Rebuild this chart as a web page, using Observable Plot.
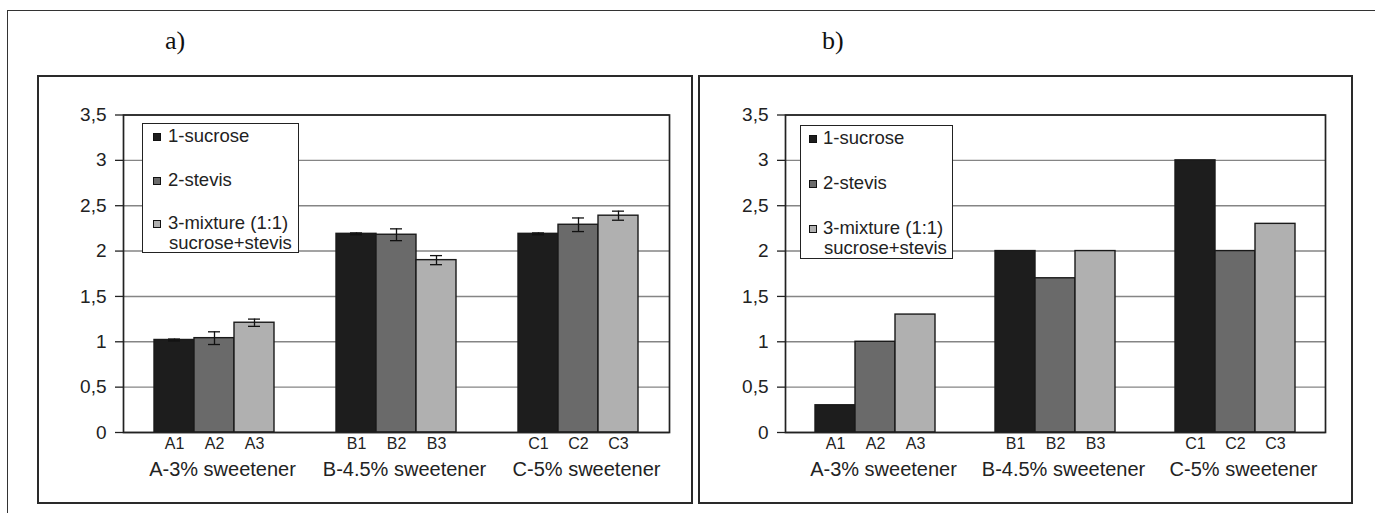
<!DOCTYPE html>
<html><head><meta charset="utf-8">
<script src="https://cdn.jsdelivr.net/npm/d3@7"></script>
<script src="https://cdn.jsdelivr.net/npm/@observablehq/plot@0.6"></script>
<style>
body{margin:0;background:#fff;}
#root{position:relative;width:1375px;height:513px;overflow:hidden;font-family:"Liberation Sans",Arial,sans-serif;background:#fff;}
.outer{position:absolute;left:7px;top:10px;width:1420px;height:560px;border:1.6px solid #333;box-sizing:border-box;}
.panel{position:absolute;top:75px;height:429px;border:2px solid #2a2a2a;box-sizing:border-box;}
.chart{position:absolute;top:76px;}
.title{position:absolute;top:28px;font-family:"Liberation Serif","DejaVu Serif",serif;font-size:26px;line-height:26px;color:#111;}
.legend{position:absolute;border:1.6px solid #222;background:#fff;box-sizing:border-box;color:#222;}
.legend .sw{position:absolute;width:6px;height:6px;border:1px solid #111;}
.legend .tx{position:absolute;font-size:18.5px;line-height:20px;white-space:pre;}
</style></head>
<body><div id="root"></div>
<script>
// ---- data ----
const groups = ["A", "B", "C"];
const groupLabels = ["A-3% sweetener", "B-4.5% sweetener", "C-5% sweetener"];
const series = ["1", "2", "3"];
const seriesNames = ["1-sucrose", "2-stevis", "3-mixture (1:1)"];
const seriesNames2 = ["", "", "sucrose+stevis"];
const colors = ["#1d1d1d", "#6a6a6a", "#b0b0b0"];
const yTicks = [0, 0.5, 1, 1.5, 2, 2.5, 3, 3.5];
// panel a) values per group (rows) and series (columns), with error bars
const valuesA = [[1.02, 1.04, 1.21], [2.19, 2.18, 1.90], [2.19, 2.29, 2.39]];
const errorsA = [[0.01, 0.07, 0.04], [0.01, 0.065, 0.05], [0.01, 0.075, 0.05]];
// panel b) values
const valuesB = [[0.3, 1.0, 1.3], [2.0, 1.7, 2.0], [3.0, 2.0, 2.3]];

function rowsOf(vals, errs) {
  return groups.flatMap((g, i) => series.map((s, j) => ({
    group: g, series: s, label: g + s, value: vals[i][j], err: errs ? errs[i][j] : 0
  })));
}

function chart(rows, withErr, width, marginLeft, marginRight) {
  const ink = "#1a1a1a";
  return Plot.plot({
    width, height: 427, marginLeft, marginRight, marginTop: 38.5, marginBottom: 71,
    style: {fontFamily: '"Liberation Sans", Arial, sans-serif', background: "transparent", overflow: "visible", color: "#222"},
    fx: {domain: groups, padding: 0, axis: null, label: null},
    x: {domain: series, paddingInner: 0, paddingOuter: 0.747, axis: null, label: null},
    y: {domain: [0, 3.5], axis: null, label: null},
    color: {domain: series, range: colors},
    marks: [
      Plot.gridY(yTicks, {stroke: "#858585", strokeOpacity: 1, strokeWidth: 1.4}),
      Plot.barY(rows, {fx: "group", x: "series", y: "value", fill: "series", stroke: ink, strokeWidth: 1.4}),
      withErr ? Plot.ruleX(rows, {fx: "group", x: "series", y1: d => d.value - d.err, y2: d => d.value + d.err, stroke: "#111", strokeWidth: 1.3}) : null,
      withErr ? Plot.tickY(rows, {fx: "group", x: "series", y: d => d.value + d.err, insetLeft: 14, insetRight: 14, stroke: "#111", strokeWidth: 1.3}) : null,
      withErr ? Plot.tickY(rows, {fx: "group", x: "series", y: d => d.value - d.err, insetLeft: 14, insetRight: 14, stroke: "#111", strokeWidth: 1.3}) : null,
      Plot.frame({facet: "super", stroke: "#222", strokeWidth: 1.7}),
      Plot.axisY(yTicks, {label: null, tickSize: 8, tickPadding: 9, fontSize: 19, stroke: "#222", strokeWidth: 1.3, fill: "#222",
        tickFormat: d => String(d).replace(".", ",")}),
      Plot.text(rows, {fx: "group", x: "series", text: "label", frameAnchor: "bottom", lineAnchor: "top", dy: 5, fontSize: 16, fill: "#222"}),
      Plot.axisFx({anchor: "bottom", label: null, tickSize: 0, tickPadding: 29, fontSize: 20, fill: "#222", dx: 8,
        tickFormat: g => groupLabels[groups.indexOf(g)]})
    ]
  });
}

function legend(root, left, top, w, h, ys, swLeft, txLeft) {
  const box = document.createElement("div");
  box.className = "legend";
  Object.assign(box.style, {left: left + "px", top: top + "px", width: w + "px", height: h + "px"});
  series.forEach((s, i) => {
    const sw = document.createElement("div");
    sw.className = "sw";
    Object.assign(sw.style, {left: swLeft + "px", top: (ys[i] - 4) + "px", background: colors[i]});
    box.appendChild(sw);
    const tx = document.createElement("div");
    tx.className = "tx";
    tx.textContent = seriesNames[i];
    Object.assign(tx.style, {left: txLeft + "px", top: (ys[i] - 11) + "px"});
    box.appendChild(tx);
    if (seriesNames2[i]) {
      const t2 = document.createElement("div");
      t2.className = "tx";
      t2.textContent = seriesNames2[i];
      Object.assign(t2.style, {left: (txLeft + 1) + "px", top: (ys[i] + 9) + "px"});
      box.appendChild(t2);
    }
  });
  root.appendChild(box);
}

const root = document.getElementById("root");
root.insertAdjacentHTML("beforeend", '<div class="outer"></div>');
root.insertAdjacentHTML("beforeend", '<div class="panel" style="left:37px;width:656px"></div>');
root.insertAdjacentHTML("beforeend", '<div class="panel" style="left:698px;width:655px"></div>');
root.insertAdjacentHTML("beforeend", '<div class="title" style="left:165px">a)</div>');
root.insertAdjacentHTML("beforeend", '<div class="title" style="left:822px">b)</div>');

const cA = chart(rowsOf(valuesA, errorsA), true, 654, 85, 23);
const wA = document.createElement("div"); wA.className = "chart"; wA.style.left = "38px"; wA.appendChild(cA); root.appendChild(wA);
const cB = chart(rowsOf(valuesB, null), false, 653, 85, 26);
const wB = document.createElement("div"); wB.className = "chart"; wB.style.left = "699px"; wB.appendChild(cB); root.appendChild(wB);

legend(root, 142, 123, 157, 130, [13, 57, 100], 10, 25);
legend(root, 800, 125, 153, 134, [13, 58, 103], 8, 22);
</script></body></html>
